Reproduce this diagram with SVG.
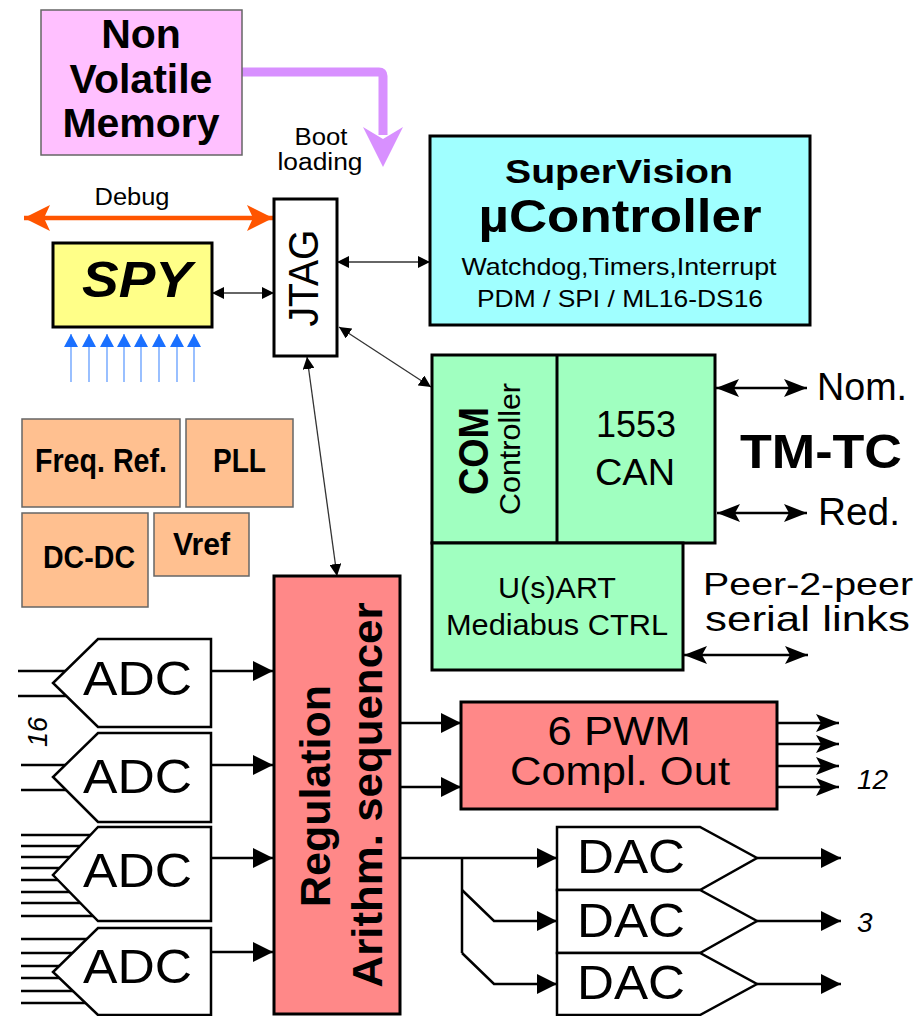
<svg xmlns="http://www.w3.org/2000/svg" width="924" height="1016" viewBox="0 0 924 1016">
  <defs>
    <style>
      text { font-family: "Liberation Sans", Arial, sans-serif; fill: #000; }
      .b { font-weight: bold; }
      .box { stroke: #000; stroke-width: 3; }
      .soft { stroke: #666; stroke-width: 1.5; }
      .thin { stroke: #333; stroke-width: 1.3; fill: none; }
      .wire { stroke: #000; stroke-width: 2.5; fill: none; }
      .conv { fill: #fff; stroke: #000; stroke-width: 2.5; stroke-linejoin: miter; }
      .probe { stroke: #80b0ff; stroke-width: 1.6; fill: none; }
    </style>
    <marker id="ah-thin" viewBox="0 0 12 12" refX="12" refY="6" markerWidth="12" markerHeight="12" markerUnits="userSpaceOnUse" orient="auto-start-reverse">
      <path d="M0,0 L12,6 L0,12 z" fill="#000"/>
    </marker>
    <marker id="ah-big" viewBox="0 0 20 20" refX="20" refY="10" markerWidth="20" markerHeight="20" markerUnits="userSpaceOnUse" orient="auto-start-reverse">
      <path d="M0,0 L20,10 L0,20 z" fill="#000"/>
    </marker>
    <marker id="ah-barb" viewBox="0 0 23 18" refX="23" refY="9" markerWidth="23" markerHeight="18" markerUnits="userSpaceOnUse" orient="auto-start-reverse">
      <path d="M0,0 L23,9 L0,18 L5,9 z" fill="#000"/>
    </marker>
    <marker id="ah-debug" viewBox="0 0 26 26" refX="26" refY="13" markerWidth="26" markerHeight="26" markerUnits="userSpaceOnUse" orient="auto-start-reverse">
      <path d="M0,0 L26,13 L0,26 L6,13 z" fill="#ff5500"/>
    </marker>
    <marker id="ah-probe" viewBox="0 0 14 13" refX="7" refY="0" markerWidth="14" markerHeight="13" markerUnits="userSpaceOnUse" orient="0">
      <path d="M7,0 L14,13 L0,13 z" fill="#1a70ff"/>
    </marker>
  </defs>

  <!-- Connectors -->
  <g id="connectors">
    <!-- boot loading path -->
    <path d="M242,72 H379 Q383,72 383,76 V135" stroke="#d890ff" stroke-width="9" fill="none"/>
    <polygon points="363,127 383,139 403,127 383,167" fill="#d890ff"/>
    <!-- debug port -->
    <line x1="24" y1="218" x2="273" y2="218" stroke="#ff5500" stroke-width="4.5" marker-start="url(#ah-debug)" marker-end="url(#ah-debug)"/>
    <!-- SPY probes -->
    <g class="probe">
      <line x1="71" y1="382" x2="71" y2="334" marker-end="url(#ah-probe)"/>
      <line x1="89" y1="382" x2="89" y2="334" marker-end="url(#ah-probe)"/>
      <line x1="107" y1="382" x2="107" y2="334" marker-end="url(#ah-probe)"/>
      <line x1="124" y1="382" x2="124" y2="334" marker-end="url(#ah-probe)"/>
      <line x1="141" y1="382" x2="141" y2="334" marker-end="url(#ah-probe)"/>
      <line x1="159" y1="382" x2="159" y2="334" marker-end="url(#ah-probe)"/>
      <line x1="177" y1="382" x2="177" y2="334" marker-end="url(#ah-probe)"/>
      <line x1="194" y1="382" x2="194" y2="334" marker-end="url(#ah-probe)"/>
    </g>
    <!-- JTAG links -->
    <line class="thin" x1="212" y1="293" x2="274" y2="293" marker-start="url(#ah-thin)" marker-end="url(#ah-thin)"/>
    <line class="thin" x1="337" y1="262" x2="430" y2="262" marker-start="url(#ah-thin)" marker-end="url(#ah-thin)"/>
    <line class="thin" x1="339" y1="327" x2="431" y2="387" marker-start="url(#ah-thin)" marker-end="url(#ah-thin)"/>
    <line class="thin" x1="307" y1="357" x2="337" y2="576" marker-start="url(#ah-thin)" marker-end="url(#ah-thin)"/>
    <!-- TM-TC and serial links -->
    <line class="wire" x1="716" y1="388" x2="807" y2="388" marker-start="url(#ah-barb)" marker-end="url(#ah-barb)"/>
    <line class="wire" x1="717" y1="513" x2="807" y2="513" marker-start="url(#ah-barb)" marker-end="url(#ah-barb)"/>
    <line class="wire" x1="684" y1="655" x2="808" y2="655" marker-start="url(#ah-barb)" marker-end="url(#ah-barb)"/>
    <!-- ADC inputs -->
    <g class="wire">
      <line x1="18" y1="671" x2="95" y2="671"/>
      <line x1="18" y1="696" x2="95" y2="696"/>
      <line x1="21" y1="765" x2="95" y2="765"/>
      <line x1="21" y1="790" x2="95" y2="790"/>
      <line x1="21" y1="835" x2="95" y2="835"/>
      <line x1="21" y1="846" x2="95" y2="846"/>
      <line x1="21" y1="857" x2="95" y2="857"/>
      <line x1="21" y1="868" x2="95" y2="868"/>
      <line x1="21" y1="880" x2="95" y2="880"/>
      <line x1="21" y1="892" x2="95" y2="892"/>
      <line x1="21" y1="903" x2="95" y2="903"/>
      <line x1="21" y1="916" x2="95" y2="916"/>
      <line x1="21" y1="939" x2="95" y2="939"/>
      <line x1="21" y1="953" x2="95" y2="953"/>
      <line x1="21" y1="966" x2="95" y2="966"/>
      <line x1="21" y1="978" x2="95" y2="978"/>
      <line x1="21" y1="991" x2="95" y2="991"/>
      <line x1="21" y1="1003" x2="95" y2="1003"/>
    </g>
    <!-- ADC outputs to regulation -->
    <line class="wire" x1="211" y1="671" x2="273" y2="671" marker-end="url(#ah-big)"/>
    <line class="wire" x1="211" y1="765" x2="273" y2="765" marker-end="url(#ah-big)"/>
    <line class="wire" x1="211" y1="858" x2="273" y2="858" marker-end="url(#ah-big)"/>
    <line class="wire" x1="211" y1="952" x2="273" y2="952" marker-end="url(#ah-big)"/>
    <!-- regulation to PWM -->
    <line class="wire" x1="400" y1="723" x2="461" y2="723" marker-end="url(#ah-big)"/>
    <line class="wire" x1="400" y1="787" x2="461" y2="787" marker-end="url(#ah-big)"/>
    <!-- PWM outputs -->
    <line class="wire" x1="777" y1="723" x2="839" y2="723" marker-end="url(#ah-barb)"/>
    <line class="wire" x1="777" y1="744" x2="839" y2="744" marker-end="url(#ah-barb)"/>
    <line class="wire" x1="777" y1="766" x2="839" y2="766" marker-end="url(#ah-barb)"/>
    <line class="wire" x1="777" y1="787" x2="839" y2="787" marker-end="url(#ah-barb)"/>
    <!-- regulation to DACs -->
    <line class="wire" x1="400" y1="858" x2="557" y2="858" marker-end="url(#ah-big)"/>
    <path class="wire" d="M462,858 V953"/>
    <path class="wire" d="M462,890 L494,921 H557" marker-end="url(#ah-big)"/>
    <path class="wire" d="M462,953 L494,984 H557" marker-end="url(#ah-big)"/>
    <!-- DAC outputs -->
    <line class="wire" x1="757" y1="858" x2="841" y2="858" marker-end="url(#ah-big)"/>
    <line class="wire" x1="757" y1="921" x2="841" y2="921" marker-end="url(#ah-big)"/>
    <line class="wire" x1="757" y1="984" x2="841" y2="984" marker-end="url(#ah-big)"/>
  </g>

  <!-- Non volatile memory -->
  <g id="nvm">
    <rect class="soft" x="41" y="10" width="201" height="145" fill="#ffc0ff"/>
    <text class="b" x="141" y="48" font-size="41" text-anchor="middle">Non</text>
    <text class="b" x="141" y="93" font-size="41" text-anchor="middle">Volatile</text>
    <text class="b" x="141" y="137" font-size="41" text-anchor="middle">Memory</text>
  </g>

  <g id="boot-label">
    <text x="321" y="145" font-size="23" text-anchor="middle" textLength="53" lengthAdjust="spacingAndGlyphs">Boot</text>
    <text x="320" y="170" font-size="23" text-anchor="middle" textLength="85" lengthAdjust="spacingAndGlyphs">loading</text>
  </g>

  <g id="debug-label">
    <text x="132" y="205" font-size="23" text-anchor="middle" textLength="75" lengthAdjust="spacingAndGlyphs">Debug</text>
  </g>

  <!-- SPY -->
  <g id="spy">
    <rect class="box" x="53" y="243" width="159" height="84" fill="#ffff88"/>
    <text class="b" x="137" y="297" font-size="50" font-style="italic" text-anchor="middle" textLength="110" lengthAdjust="spacingAndGlyphs">SPY</text>
  </g>

  <!-- JTAG -->
  <g id="jtag">
    <rect class="box" x="274" y="199" width="63" height="157" fill="#fff"/>
    <text transform="translate(318,278) rotate(-90)" font-size="42" text-anchor="middle" textLength="97" lengthAdjust="spacingAndGlyphs">JTAG</text>
  </g>

  <!-- Supervision microcontroller -->
  <g id="supervision">
    <rect class="box" x="430" y="136" width="380" height="189" fill="#a0ffff"/>
    <text class="b" x="619" y="183" font-size="34" text-anchor="middle" textLength="228" lengthAdjust="spacingAndGlyphs">SuperVision</text>
    <text class="b" x="620" y="232" font-size="46" text-anchor="middle" textLength="283" lengthAdjust="spacingAndGlyphs">µController</text>
    <text x="619" y="275" font-size="24" text-anchor="middle" textLength="315" lengthAdjust="spacingAndGlyphs">Watchdog,Timers,Interrupt</text>
    <text x="620" y="307" font-size="24" text-anchor="middle" textLength="286" lengthAdjust="spacingAndGlyphs">PDM / SPI / ML16-DS16</text>
  </g>

  <!-- COM controller -->
  <g id="com">
    <rect class="box" x="432" y="355" width="283" height="188" fill="#a0ffc0"/>
    <line x1="557" y1="355" x2="557" y2="543" stroke="#000" stroke-width="3"/>
    <text class="b" transform="translate(488,451) rotate(-90)" font-size="42" text-anchor="middle" textLength="88" lengthAdjust="spacingAndGlyphs">COM</text>
    <text transform="translate(520,449) rotate(-90)" font-size="30" text-anchor="middle" textLength="132" lengthAdjust="spacingAndGlyphs">Controller</text>
    <text x="636" y="437" font-size="36" text-anchor="middle">1553</text>
    <text x="635" y="485" font-size="37" text-anchor="middle" textLength="80" lengthAdjust="spacingAndGlyphs">CAN</text>
  </g>

  <g id="usart">
    <rect class="box" x="432" y="543" width="251" height="127" fill="#a0ffc0"/>
    <text x="557" y="598" font-size="30" text-anchor="middle" textLength="118" lengthAdjust="spacingAndGlyphs">U(s)ART</text>
    <text x="557" y="635" font-size="30" text-anchor="middle" textLength="222" lengthAdjust="spacingAndGlyphs">Mediabus CTRL</text>
  </g>

  <g id="tmtc-labels">
    <text x="817" y="400" font-size="38" textLength="90" lengthAdjust="spacingAndGlyphs">Nom.</text>
    <text class="b" x="740" y="468" font-size="49" textLength="162" lengthAdjust="spacingAndGlyphs">TM-TC</text>
    <text x="818" y="525" font-size="38" textLength="82" lengthAdjust="spacingAndGlyphs">Red.</text>
    <text x="703" y="595" font-size="32" textLength="210" lengthAdjust="spacingAndGlyphs">Peer-2-peer</text>
    <text x="705" y="631" font-size="35" textLength="205" lengthAdjust="spacingAndGlyphs">serial links</text>
  </g>

  <!-- Support blocks -->
  <g id="freq-ref">
    <rect class="soft" x="22" y="419" width="158" height="88" fill="#ffc090"/>
    <text class="b" x="35" y="472" font-size="33" textLength="132" lengthAdjust="spacingAndGlyphs">Freq. Ref.</text>
  </g>
  <g id="pll">
    <rect class="soft" x="186" y="419" width="107" height="88" fill="#ffc090"/>
    <text class="b" x="213" y="472" font-size="33" textLength="53" lengthAdjust="spacingAndGlyphs">PLL</text>
  </g>
  <g id="dcdc">
    <rect class="soft" x="22" y="513" width="126" height="94" fill="#ffc090"/>
    <text class="b" x="43" y="568" font-size="32" textLength="92" lengthAdjust="spacingAndGlyphs">DC-DC</text>
  </g>
  <g id="vref">
    <rect class="soft" x="154" y="513" width="95" height="63" fill="#ffc090"/>
    <text class="b" x="173" y="555" font-size="32" textLength="57" lengthAdjust="spacingAndGlyphs">Vref</text>
  </g>

  <!-- ADC converters -->
  <g id="adc1">
    <polygon class="conv" points="98,639 211,639 211,727 98,727 53,683"/>
    <text x="83" y="695" font-size="48" textLength="109" lengthAdjust="spacingAndGlyphs">ADC</text>
  </g>
  <g id="adc2">
    <polygon class="conv" points="98,733 211,733 211,822 98,822 53,777"/>
    <text x="83" y="793" font-size="48" textLength="109" lengthAdjust="spacingAndGlyphs">ADC</text>
  </g>
  <g id="adc3">
    <polygon class="conv" points="98,827 211,827 211,921 98,921 53,875"/>
    <text x="83" y="887" font-size="48" textLength="109" lengthAdjust="spacingAndGlyphs">ADC</text>
  </g>
  <g id="adc4">
    <polygon class="conv" points="98,928 211,928 211,1015 98,1015 53,972"/>
    <text x="83" y="983" font-size="48" textLength="109" lengthAdjust="spacingAndGlyphs">ADC</text>
  </g>
  <g id="adc-count">
    <text transform="translate(47,732) rotate(-90)" font-size="27" font-style="italic" text-anchor="middle">16</text>
  </g>

  <!-- Regulation sequencer -->
  <g id="regulation">
    <rect class="box" x="274" y="576" width="126" height="438" fill="#ff8888"/>
    <text class="b" transform="translate(330,796) rotate(-90)" font-size="43" text-anchor="middle" textLength="222" lengthAdjust="spacingAndGlyphs">Regulation</text>
    <text class="b" transform="translate(382,795) rotate(-90)" font-size="43" text-anchor="middle" textLength="385" lengthAdjust="spacingAndGlyphs">Arithm. sequencer</text>
  </g>

  <!-- PWM -->
  <g id="pwm">
    <rect class="box" x="461" y="702" width="316" height="107" fill="#ff8888"/>
    <text x="619" y="745" font-size="40" text-anchor="middle" textLength="143" lengthAdjust="spacingAndGlyphs">6 PWM</text>
    <text x="620" y="785" font-size="40" text-anchor="middle" textLength="220" lengthAdjust="spacingAndGlyphs">Compl. Out</text>
  </g>
  <g id="pwm-count">
    <text x="857" y="789" font-size="28" font-style="italic">12</text>
  </g>

  <!-- DAC converters -->
  <g id="dac1">
    <polygon class="conv" points="557,827 700,827 757,858 700,890 557,890"/>
    <text x="577" y="873" font-size="49" textLength="108" lengthAdjust="spacingAndGlyphs">DAC</text>
  </g>
  <g id="dac2">
    <polygon class="conv" points="557,890 700,890 757,921 700,953 557,953"/>
    <text x="577" y="937" font-size="49" textLength="108" lengthAdjust="spacingAndGlyphs">DAC</text>
  </g>
  <g id="dac3">
    <polygon class="conv" points="557,953 700,953 757,984 700,1015 557,1015"/>
    <text x="577" y="999" font-size="49" textLength="108" lengthAdjust="spacingAndGlyphs">DAC</text>
  </g>
  <g id="dac-count">
    <text x="857" y="932" font-size="28" font-style="italic">3</text>
  </g>
</svg>
